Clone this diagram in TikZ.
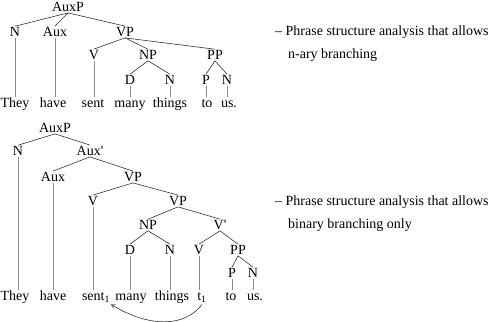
\documentclass[tikz,border=0pt]{standalone}
\usepackage{fontspec}
\setmainfont{Liberation Serif}
\usetikzlibrary{arrows.meta}

\begin{document}
\begin{tikzpicture}[x=1pt,y=-1pt,font=\rmfamily\fontsize{14}{16}\selectfont,
  cat/.style={inner sep=1pt},
  word/.style={inner sep=1pt,text height=9.5pt,text depth=3pt},
  br/.style={black!80,line width=0.6pt},
  lx/.style={black!45,line width=0.6pt},
  note/.style={anchor=base west,inner sep=0pt}]
\useasboundingbox (0,0) rectangle (500,321);
% n-ary tree
\node[cat] (auxp) at (68,7) {AuxP};
\node[cat] (n) at (15,32) {N};
\node[cat] (aux) at (55,32) {Aux};
\node[cat] (vp) at (125,32) {VP};
\node[cat] (v) at (94,55) {V};
\node[cat] (np) at (148,55) {NP};
\node[cat] (pp) at (215,55) {PP};
\node[cat] (d) at (130,80) {D};
\node[cat] (nn) at (170,80) {N};
\node[cat] (p) at (206,80) {P};
\node[cat] (pn) at (227,80) {N};
\foreach \nm/\x/\t in {they/15/They,have/53/have,sent/93/sent,many/130/many,
    things/170/things,to/207/to,us/229/us.}{
  \node[word] (w\nm) at (\x,104) {\t};
}
\foreach \a/\b in {auxp/n,auxp/aux,auxp/vp,vp/v,vp/np,vp/pp,np/d,np/nn,pp/p,pp/pn}{
  \draw[br] (\a.south) -- (\b.north);
}
\foreach \a/\b in {n/they,aux/have,v/sent,d/many,nn/things,p/to,pn/us}{
  \draw[lx] (\a.south) -- (\a.south |- w\b.north);
}
% binary tree
\node[cat] (auxpb) at (55,128) {AuxP};
\node[cat] (nb) at (18,151) {N};
\node[cat] (auxbar) at (90,151) {Aux\textquotesingle};
\node[cat] (auxb) at (53,177) {Aux};
\node[cat] (vpb) at (133,177) {VP};
\node[cat] (vb) at (93,201) {V};
\node[cat] (vpc) at (178,201) {VP};
\node[cat] (npb) at (148,225) {NP};
\node[cat] (vbar) at (220,225) {V\textquotesingle};
\node[cat] (db) at (130,250) {D};
\node[cat] (nnb) at (170,250) {N};
\node[cat] (vc) at (199,250) {V};
\node[cat] (ppb) at (238,250) {PP};
\node[cat] (pb) at (232,273) {P};
\node[cat] (pnb) at (253,273) {N};
\foreach \nm/\x/\t in {they/15/They,have/53/have,sent/96/sent\textsubscript{1},
    many/131/many,things/172/things,t/202/t\textsubscript{1},to/231/to,us/255/us.}{
  \node[word] (b\nm) at (\x,297) {\t};
}
\foreach \a/\b in {auxpb/nb,auxpb/auxbar,auxbar/auxb,auxbar/vpb,vpb/vb,vpb/vpc,
    vpc/npb,vpc/vbar,npb/db,npb/nnb,vbar/vc,vbar/ppb,ppb/pb,ppb/pnb}{
  \draw[br] (\a.south) -- (\b.north);
}
\foreach \a/\b in {nb/they,auxb/have,vb/sent,db/many,nnb/things,vc/t,pb/to,pnb/us}{
  \draw[lx] (\a.south) -- (\a.south |- b\b.north);
}
\draw[br,-{To[length=4pt,width=5pt]}] (bt.south) .. controls +(-20,26) and +(32,20) .. (bsent.south east);
% notes
\node[note] (c1) at (275,36) {-- Phrase structure analysis that allows};
\node[note] (c1b) at (288,59) {n-ary branching};
\node[note] (c2) at (275,205) {-- Phrase structure analysis that allows};
\node[note] (c2b) at (288,228) {binary branching only};
\end{tikzpicture}
\end{document}
